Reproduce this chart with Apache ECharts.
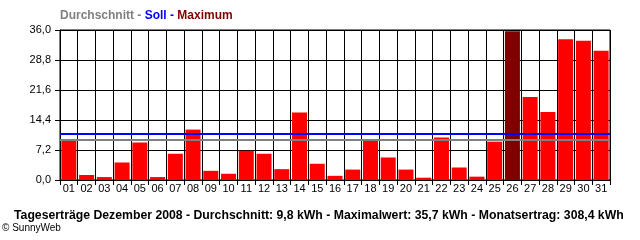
<!DOCTYPE html>
<html><head><meta charset="utf-8">
<script src="https://cdn.jsdelivr.net/npm/echarts@6/dist/echarts.min.js"></script>
<style>html,body{margin:0;padding:0;background:#fff}#c{width:640px;height:240px}</style>
</head><body><div id="c"></div>
<script>
const days = ['01','02','03','04','05','06','07','08','09','10','11','12','13','14','15','16','17','18','19','20','21','22','23','24','25','26','27','28','29','30','31'];
const yields = [9.5,1.2,0.7,4.2,9.0,0.7,6.3,12.1,2.2,1.5,7.0,6.3,2.6,16.2,3.9,1.0,2.5,9.5,5.4,2.5,0.55,10.2,3.0,0.8,9.2,35.7,19.9,16.3,33.8,33.4,31.0];
const average = 9.6;
const target = 11.0;
const yTicks = [0, 7.2, 14.4, 21.6, 28.8, 36.0];
const maxVal = Math.max(...yields);

const chart = echarts.init(document.getElementById('c'), null, {renderer:'canvas'});
chart.setOption({
  animation:false,
  backgroundColor:'#fff',
  textStyle:{fontFamily:'Liberation Sans'},
  title:[{
    text:'{g|Durchschnitt - }{b|Soll - }{r|Maximum}',
    left:60, top:10, padding:0,
    textStyle:{rich:{
      g:{color:'#808080',fontWeight:'bold',fontSize:12,fontFamily:'Liberation Sans'},
      b:{color:'#0000ff',fontWeight:'bold',fontSize:12,fontFamily:'Liberation Sans'},
      r:{color:'#800000',fontWeight:'bold',fontSize:12,fontFamily:'Liberation Sans'}
    }}
  },{
    text:'Tageserträge Dezember 2008 - Durchschnitt: 9,8 kWh - Maximalwert: 35,7 kWh - Monatsertrag: 308,4 kWh',
    left:14, top:210, padding:0,
    textStyle:{color:'#000',fontWeight:'bold',fontSize:12.25,fontFamily:'Liberation Sans'}
  },{
    text:'© SunnyWeb',
    left:2, top:223, padding:0,
    textStyle:{color:'#000',fontWeight:'normal',fontSize:10,fontFamily:'Liberation Sans'}
  }],
  grid:{left:60,right:30,top:30,bottom:60,show:true,borderColor:'#000',borderWidth:1},
  xAxis:{
    type:'category', data:days, boundaryGap:true,
    axisLine:{lineStyle:{color:'#000'}},
    axisTick:{show:true,alignWithLabel:false,length:5,lineStyle:{color:'#000'}},
    axisLabel:{color:'#000',fontSize:11,margin:3,interval:0},
    splitLine:{show:true,lineStyle:{color:'#000',width:1}}
  },
  yAxis:{
    type:'value', min:0, max:36, interval:7.2,
    axisLine:{show:true,lineStyle:{color:'#000'}},
    axisTick:{show:true,length:5,lineStyle:{color:'#000'}},
    axisLabel:{color:'#000',fontSize:11,margin:9,formatter:v=>{
      const t = yTicks.find(x=>Math.abs(x-v)<1e-6);
      return (t!==undefined?t:v).toFixed(1).replace('.',',');
    }},
    splitLine:{show:true,lineStyle:{color:'#000',width:1}}
  },
  series:[{
    type:'bar',
    barWidth:15,
    data:yields.map(v=>({value:v,itemStyle:{color:v===maxVal?'#800000':'#ff0000'}})),
    markLine:{
      silent:true, symbol:'none', label:{show:false},
      data:[
        {yAxis:average,lineStyle:{color:'#808080',width:2,type:'solid'}},
        {yAxis:target,lineStyle:{color:'#0000ff',width:2,type:'solid'}}
      ]
    }
  }]
});
</script></body></html>
